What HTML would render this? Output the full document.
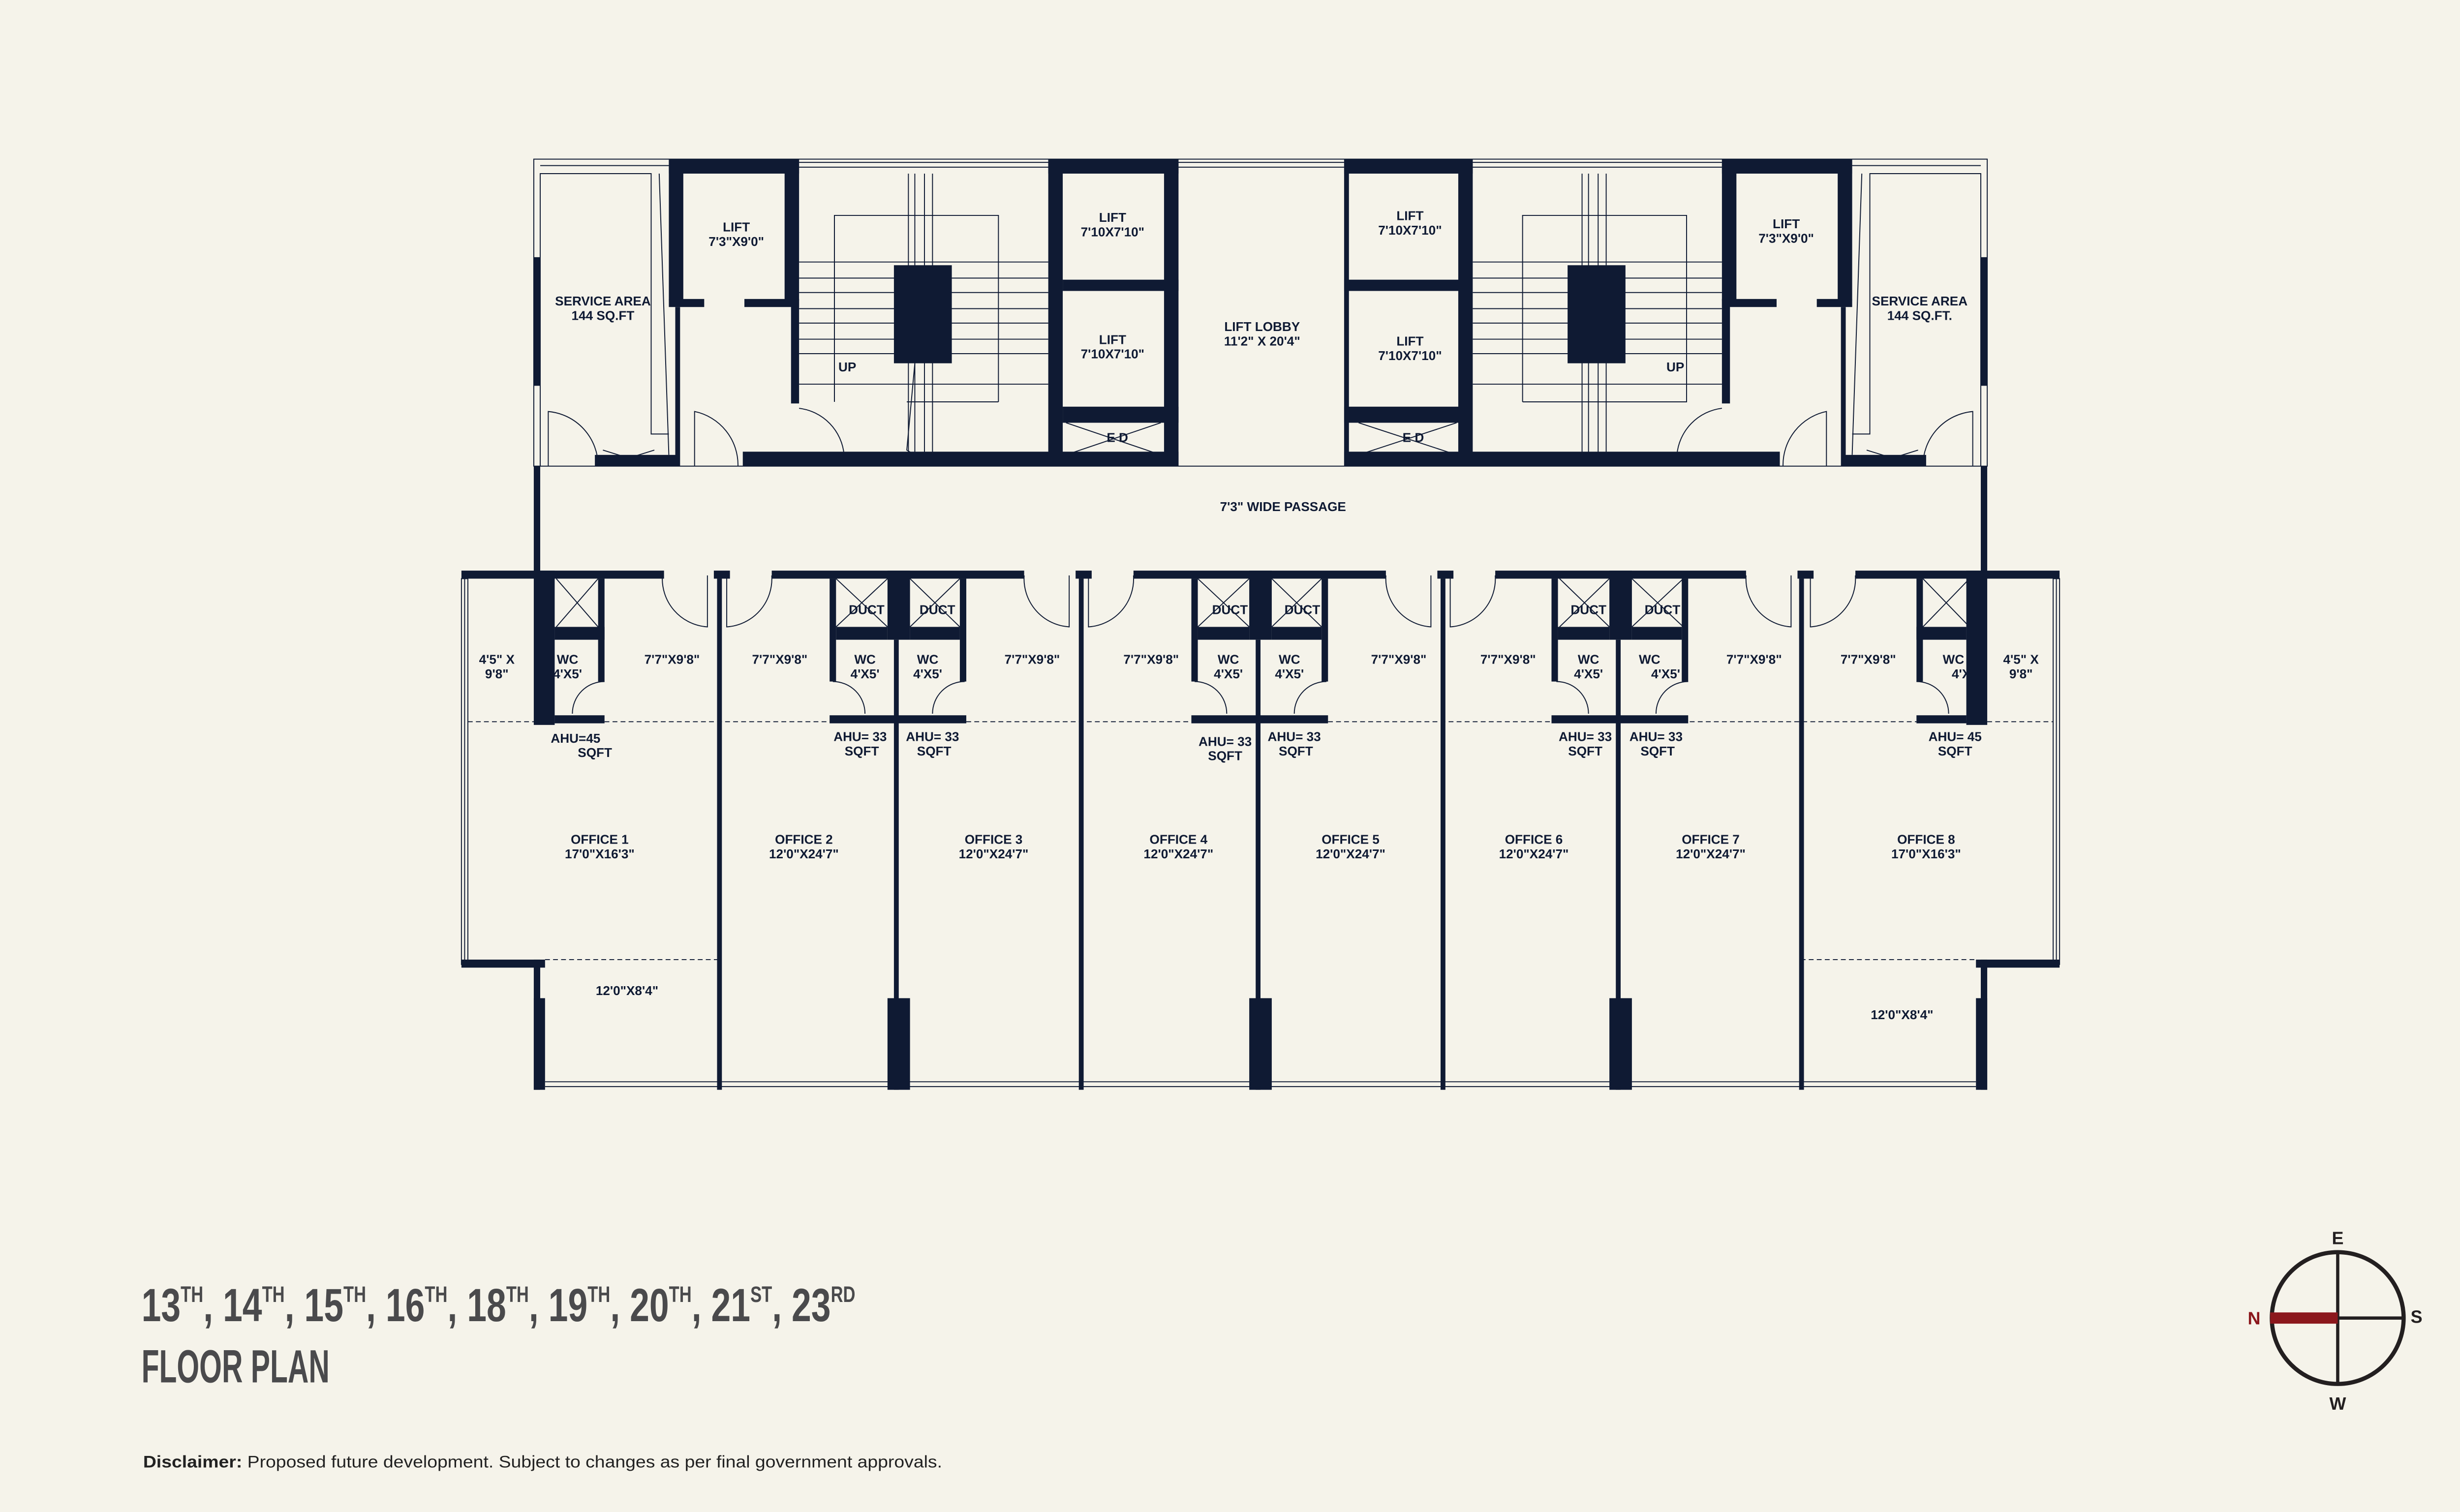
<!DOCTYPE html>
<html><head><meta charset="utf-8"><style>
html,body{margin:0;padding:0;background:#f5f3ea;}
svg{display:block}
text{font-family:"Liberation Sans Narrow","Liberation Sans",sans-serif;font-weight:bold;fill:#0f1a33;text-anchor:middle}
</style></head><body>
<svg width="5124" height="3074" viewBox="0 0 1568 940.66" xmlns="http://www.w3.org/2000/svg">
<rect width="1568" height="941" fill="#f5f3ea"/>
<g fill="none" stroke="#0f1a33" stroke-width="0.6">
 <!-- top outline double lines -->
 <rect x="332" y="99" width="904" height="191"/>
 <line x1="336" y1="103" x2="416" y2="103"/><line x1="1152" y1="103" x2="1232" y2="103"/>
 <line x1="497" y1="101" x2="652" y2="101"/><line x1="497" y1="104" x2="652" y2="104"/>
 <line x1="916" y1="101" x2="1071" y2="101"/><line x1="916" y1="104" x2="1071" y2="104"/>
 <line x1="733" y1="101" x2="836" y2="101"/><line x1="733" y1="104" x2="836" y2="104"/>
 <!-- service areas -->
 <polyline points="336,290 336,108 405,108 405,270 416,270"/>
 <line x1="410" y1="108" x2="416" y2="283"/>
 <polyline points="1232,290 1232,108 1163,108 1163,270 1152,270"/>
 <line x1="1158" y1="108" x2="1152" y2="283"/>
 <!-- stairs -->
 <rect x="541" y="134" width="84" height="216" style="display:none"/>
 <rect x="519" y="135" width="102" height="214" style="display:none"/>
 <rect x="519" y="134" width="102" height="216" stroke="none"/>
 <rect x="519" y="134" width="102" height="215" style="display:none"/>
 <rect x="519" y="134" width="102" height="215" style="display:none"/>
 <rect x="519" y="134" width="102" height="216" stroke="none"/>
 <rect x="519" y="134" width="102" height="216" style="display:none"/>
 <rect x="519" y="134" width="102" height="216" stroke="none"/>
 <rect x="519" y="134" width="102" height="216" stroke="none"/>
 <polyline points="519,250 519,134 621,134 621,250"/>
 <line x1="519" y1="250" x2="621" y2="250" style="display:none"/>
 <line x1="565" y1="108" x2="565" y2="283"/><line x1="569" y1="108" x2="569" y2="283"/><line x1="575" y1="108" x2="575" y2="283"/><line x1="580" y1="108" x2="580" y2="283"/>
 <g id="st">
 <line x1="497" y1="163" x2="652" y2="163"/><line x1="497" y1="182" x2="652" y2="182"/><line x1="497" y1="201" x2="652" y2="201"/><line x1="497" y1="220" x2="652" y2="220"/><line x1="497" y1="239" x2="652" y2="239"/><line x1="497" y1="257" x2="652" y2="257" style="display:none"/>
 <line x1="497" y1="173" x2="652" y2="173"/><line x1="497" y1="192" x2="652" y2="192"/><line x1="497" y1="211" x2="652" y2="211"/><line x1="497" y1="230" x2="652" y2="230" style="display:none"/>
 </g>
 <line x1="527" y1="134" x2="527" y2="350" style="display:none"/>
 <polyline points="569,226 564,280 569,283"/>
 <line x1="564" y1="250" x2="621" y2="250"/>
 <line x1="984" y1="108" x2="984" y2="283"/><line x1="988" y1="108" x2="988" y2="283"/><line x1="994" y1="108" x2="994" y2="283"/><line x1="999" y1="108" x2="999" y2="283"/>
 <polyline points="947,250 947,134 1049,134 1049,250 947,250"/>
 <polyline points="519,250 519,134"/>
 <g transform="translate(419,0)"><use href="#st"/></g>
 <!-- ED crosses -->
 <line x1="663" y1="263" x2="722" y2="283"/><line x1="663" y1="283" x2="722" y2="263"/>
 <line x1="845" y1="263" x2="906" y2="283"/><line x1="845" y1="283" x2="906" y2="263"/>
 <line x1="375" y1="280" x2="407" y2="290"/><line x1="375" y1="290" x2="407" y2="280"/>
 <line x1="1161" y1="280" x2="1193" y2="290"/><line x1="1161" y1="290" x2="1193" y2="280"/>
 <!-- doors top -->
 <path d="M341,290 L341,256 A34,34 0 0 1 372,290"/>
 <path d="M432,290 L432,256 A34,34 0 0 1 459,290"/>
 <path d="M497,254 A32,32 0 0 1 525,283"/>
 <path d="M1227,290 L1227,256 A34,34 0 0 0 1196,290"/>
 <path d="M1136,290 L1136,256 A34,34 0 0 0 1109,290"/>
 <path d="M1071,254 A32,32 0 0 0 1043,283"/>
 <!-- wings windows -->
 <rect x="287" y="360" width="4" height="240"/><line x1="289" y1="360" x2="289" y2="600"/>
 <rect x="1277" y="360" width="4" height="240"/><line x1="1279" y1="360" x2="1279" y2="600"/>
 <line x1="339" y1="673" x2="1229" y2="673"/><line x1="339" y1="676" x2="1229" y2="676"/>
 <!-- dashed -->
 <line x1="291" y1="449" x2="1277" y2="449" stroke-dasharray="3,2"/>
 <line x1="339" y1="597" x2="446" y2="597" stroke-dasharray="3,2"/>
 <line x1="1120" y1="597" x2="1229" y2="597" stroke-dasharray="3,2"/>
 <!-- shafts crosses -->
 <line x1="346" y1="360" x2="372" y2="390"/><line x1="346" y1="390" x2="372" y2="360"/>
 <line x1="1196" y1="360" x2="1225" y2="390"/><line x1="1196" y1="390" x2="1225" y2="360"/>
 <line x1="520" y1="360" x2="552" y2="390"/><line x1="520" y1="390" x2="552" y2="360"/>
 <line x1="566" y1="360" x2="597" y2="390"/><line x1="566" y1="390" x2="597" y2="360"/>
 <line x1="745" y1="360" x2="777" y2="390"/><line x1="745" y1="390" x2="777" y2="360"/>
 <line x1="791" y1="360" x2="822" y2="390"/><line x1="791" y1="390" x2="822" y2="360"/>
 <line x1="970" y1="360" x2="1001" y2="390"/><line x1="970" y1="390" x2="1001" y2="360"/>
 <line x1="1015" y1="360" x2="1047" y2="390"/><line x1="1015" y1="390" x2="1047" y2="360"/>
 <!-- office doors -->
 <path d="M440,358 L440,390 A30,30 0 0 1 412,358"/>
 <path d="M452,358 L452,390 A30,30 0 0 0 480,358"/>
 <path d="M665,358 L665,390 A30,30 0 0 1 637,358"/>
 <path d="M677,358 L677,390 A30,30 0 0 0 705,358"/>
 <path d="M890,358 L890,390 A30,30 0 0 1 862,358"/>
 <path d="M902,358 L902,390 A30,30 0 0 0 930,358"/>
 <path d="M1114,358 L1114,390 A30,30 0 0 1 1086,358"/>
 <path d="M1126,358 L1126,390 A30,30 0 0 0 1154,358"/>
 <!-- wc doors -->
 <path d="M376,424 A20,20 0 0 0 356,444"/><path d="M600,424 A20,20 0 0 0 580,444"/>
 <path d="M518,424 A20,20 0 0 1 538,444"/><path d="M743,424 A20,20 0 0 1 763,444"/>
 <path d="M825,424 A20,20 0 0 0 805,444"/><path d="M968,424 A20,20 0 0 1 988,444"/>
 <path d="M1050,424 A20,20 0 0 0 1030,444"/><path d="M1192,424 A20,20 0 0 1 1212,444"/>
</g>
<g fill="#0f1a33">
 <!-- top block walls -->
 <rect x="332" y="160" width="4" height="80"/>
 <rect x="416" y="99" width="81" height="9"/>
 <rect x="416" y="99" width="9" height="88"/>
 <rect x="416" y="186" width="22" height="5"/><rect x="463" y="186" width="34" height="5"/>
 <rect x="488" y="99" width="9" height="88"/>
 <rect x="492" y="186" width="5" height="65"/>
 <rect x="420" y="191" width="3" height="99"/>
 <rect x="370" y="283" width="50" height="7"/>
 <rect x="462" y="281" width="271" height="9"/>
 <rect x="652" y="99" width="81" height="9"/>
 <rect x="652" y="99" width="9" height="191"/>
 <rect x="661" y="174" width="72" height="7"/>
 <rect x="661" y="253" width="72" height="10"/>
 <rect x="724" y="99" width="9" height="191"/>
 <rect x="556" y="165" width="36" height="61"/>
 <!-- right mirror -->
 <rect x="1232" y="160" width="4" height="80"/>
 <rect x="1071" y="99" width="81" height="9"/>
 <rect x="1143" y="99" width="9" height="88"/>
 <rect x="1071" y="186" width="34" height="5"/><rect x="1130" y="186" width="22" height="5"/>
 <rect x="1071" y="99" width="9" height="88"/>
 <rect x="1071" y="186" width="5" height="65"/>
 <rect x="1145" y="191" width="3" height="99"/>
 <rect x="1148" y="283" width="50" height="7"/>
 <rect x="836" y="281" width="271" height="9"/>
 <rect x="836" y="99" width="80" height="9"/>
 <rect x="907" y="99" width="9" height="191"/>
 <rect x="836" y="174" width="72" height="7"/>
 <rect x="836" y="253" width="72" height="10"/>
 <rect x="836" y="99" width="3" height="191"/>
 <rect x="975" y="165" width="36" height="61"/>
 <!-- passage sides -->
 <rect x="332" y="290" width="4" height="70"/>
 <rect x="1232" y="290" width="4" height="70"/>
 <!-- lower top wall -->
 <rect x="287" y="355" width="126" height="5"/>
 <rect x="444" y="355" width="10" height="5"/>
 <rect x="480" y="355" width="157" height="5"/>
 <rect x="669" y="355" width="10" height="5"/>
 <rect x="705" y="355" width="157" height="5"/>
 <rect x="894" y="355" width="10" height="5"/>
 <rect x="930" y="355" width="156" height="5"/>
 <rect x="1118" y="355" width="10" height="5"/>
 <rect x="1154" y="355" width="127" height="5"/>
 <!-- left unit -->
 <rect x="332" y="355" width="13" height="96"/>
 <rect x="345" y="390" width="31" height="8"/>
 <rect x="372" y="360" width="4" height="64"/>
 <rect x="345" y="445" width="31" height="5"/>
 <!-- right unit -->
 <rect x="1223" y="355" width="13" height="96"/>
 <rect x="1192" y="390" width="31" height="8"/>
 <rect x="1192" y="360" width="4" height="64"/>
 <rect x="1192" y="445" width="31" height="5"/>
 <!-- wing steps -->
 <rect x="287" y="597" width="52" height="5"/>
 <rect x="1229" y="597" width="52" height="5"/>
 <rect x="332" y="597" width="4" height="81"/>
 <rect x="332" y="621" width="7" height="57"/>
 <rect x="1232" y="597" width="4" height="81"/>
 <rect x="1229" y="621" width="7" height="57"/>
 <!-- office dividers -->
 <rect x="446" y="360" width="3" height="318"/>
 <rect x="671" y="360" width="3" height="318"/>
 <rect x="896" y="360" width="3" height="318"/>
 <rect x="1119" y="360" width="3" height="318"/>
 <!-- pairs -->
 <g id="pair">
  <rect x="516" y="360" width="4" height="64"/>
  <rect x="520" y="390" width="32" height="8"/>
  <rect x="552" y="355" width="14" height="43"/>
  <rect x="566" y="390" width="31" height="8"/>
  <rect x="597" y="360" width="4" height="64"/>
  <rect x="516" y="445" width="85" height="5"/>
  <rect x="556" y="398" width="3" height="280"/>
  <rect x="552" y="621" width="14" height="57"/>
 </g>
 <use href="#pair" x="225"/>
 <use href="#pair" x="449"/>
</g>
<g font-size="8">
 <text x="375" y="190">SERVICE  AREA</text><text x="375" y="199">144 SQ.FT</text>
 <text x="458" y="144">LIFT</text><text x="458" y="153">7'3"X9'0"</text>
 <text x="527" y="231">UP</text>
 <text x="692" y="138">LIFT</text><text x="692" y="147">7'10X7'10"</text>
 <text x="692" y="214">LIFT</text><text x="692" y="223">7'10X7'10"</text>
 <text x="785" y="206">LIFT  LOBBY</text><text x="785" y="215">11'2" X 20'4"</text>
 <text x="695" y="275">E D</text>
 <text x="877" y="137">LIFT</text><text x="877" y="146">7'10X7'10"</text>
 <text x="877" y="215">LIFT</text><text x="877" y="224">7'10X7'10"</text>
 <text x="879" y="275">E D</text>
 <text x="1042" y="231">UP</text>
 <text x="1111" y="142">LIFT</text><text x="1111" y="151">7'3"X9'0"</text>
 <text x="1194" y="190">SERVICE  AREA</text><text x="1194" y="199">144 SQ.FT.</text>
 <text x="798" y="318">7'3" WIDE PASSAGE</text>
 <text x="309" y="413">4'5" X</text><text x="309" y="422">9'8"</text>
 <text x="353" y="413">WC</text><text x="353" y="422">4'X5'</text>
 <text x="418" y="413">7'7"X9'8"</text>
 <text x="485" y="413">7'7"X9'8"</text>
 <text x="538" y="413">WC</text><text x="538" y="422">4'X5'</text>
 <text x="577" y="413">WC</text><text x="577" y="422">4'X5'</text>
 <text x="642" y="413">7'7"X9'8"</text>
 <text x="716" y="413">7'7"X9'8"</text>
 <text x="764" y="413">WC</text><text x="764" y="422">4'X5'</text>
 <text x="802" y="413">WC</text><text x="802" y="422">4'X5'</text>
 <text x="870" y="413">7'7"X9'8"</text>
 <text x="938" y="413">7'7"X9'8"</text>
 <text x="988" y="413">WC</text><text x="988" y="422">4'X5'</text>
 <text x="1026" y="413">WC</text><text x="1036" y="422">4'X5'</text>
 <text x="1091" y="413">7'7"X9'8"</text>
 <text x="1162" y="413">7'7"X9'8"</text>
 <text x="1215" y="413">WC</text><text x="1222" y="422">4'X5</text>
 <text x="1257" y="413">4'5" X</text><text x="1257" y="422">9'8"</text>
 <text x="539" y="382">DUCT</text><text x="583" y="382">DUCT</text>
 <text x="765" y="382">DUCT</text><text x="810" y="382">DUCT</text>
 <text x="988" y="382">DUCT</text><text x="1034" y="382">DUCT</text>
 <text x="358" y="462">AHU=45</text><text x="370" y="471">SQFT</text>
 <text x="535" y="461">AHU= 33</text><text x="536" y="470">SQFT</text>
 <text x="580" y="461">AHU= 33</text><text x="581" y="470">SQFT</text>
 <text x="762" y="464">AHU= 33</text><text x="762" y="473">SQFT</text>
 <text x="805" y="461">AHU= 33</text><text x="806" y="470">SQFT</text>
 <text x="986" y="461">AHU= 33</text><text x="986" y="470">SQFT</text>
 <text x="1030" y="461">AHU= 33</text><text x="1031" y="470">SQFT</text>
 <text x="1216" y="461">AHU= 45</text><text x="1216" y="470">SQFT</text>
 <text x="373" y="525">OFFICE 1</text><text x="373" y="534">17'0"X16'3"</text>
 <text x="500" y="525">OFFICE 2</text><text x="500" y="534">12'0"X24'7"</text>
 <text x="618" y="525">OFFICE 3</text><text x="618" y="534">12'0"X24'7"</text>
 <text x="733" y="525">OFFICE 4</text><text x="733" y="534">12'0"X24'7"</text>
 <text x="840" y="525">OFFICE 5</text><text x="840" y="534">12'0"X24'7"</text>
 <text x="954" y="525">OFFICE 6</text><text x="954" y="534">12'0"X24'7"</text>
 <text x="1064" y="525">OFFICE 7</text><text x="1064" y="534">12'0"X24'7"</text>
 <text x="1198" y="525">OFFICE 8</text><text x="1198" y="534">17'0"X16'3"</text>
 <text x="390" y="619">12'0"X8'4"</text>
 <text x="1183" y="634">12'0"X8'4"</text>
</g>
<g style="text-anchor:start">
 <text x="88" y="822" font-size="29" style="text-anchor:start;fill:#4a4a4c" textLength="444" lengthAdjust="spacingAndGlyphs">13<tspan font-size="14" dy="-12">TH</tspan><tspan dy="12">, 14</tspan><tspan font-size="14" dy="-12">TH</tspan><tspan dy="12">, 15</tspan><tspan font-size="14" dy="-12">TH</tspan><tspan dy="12">, 16</tspan><tspan font-size="14" dy="-12">TH</tspan><tspan dy="12">, 18</tspan><tspan font-size="14" dy="-12">TH</tspan><tspan dy="12">, 19</tspan><tspan font-size="14" dy="-12">TH</tspan><tspan dy="12">, 20</tspan><tspan font-size="14" dy="-12">TH</tspan><tspan dy="12">, 21</tspan><tspan font-size="14" dy="-12">ST</tspan><tspan dy="12">, 23</tspan><tspan font-size="14" dy="-12">RD</tspan></text>
 <text x="88" y="860" font-size="29" style="text-anchor:start;fill:#4a4a4c" textLength="117" lengthAdjust="spacingAndGlyphs">FLOOR PLAN</text>
 <text x="89" y="913" font-size="10.5" style="text-anchor:start;fill:#222;font-weight:normal" textLength="497" lengthAdjust="spacingAndGlyphs"><tspan font-weight="bold">Disclaimer:</tspan> Proposed future development. Subject to changes as per final government approvals.</text>
</g>
<g>
 <circle cx="1454" cy="820" r="41" fill="none" stroke="#231f20" stroke-width="2.6"/>
 <line x1="1454" y1="779" x2="1454" y2="861" stroke="#231f20" stroke-width="2"/>
 <line x1="1454" y1="820" x2="1495" y2="820" stroke="#231f20" stroke-width="2"/>
 <rect x="1412" y="816.5" width="42" height="7" fill="#8b171c"/>
 <g font-family="Liberation Sans" style="font-family:'Liberation Sans',sans-serif">
 <text x="1454" y="774" font-size="11" style="fill:#231f20">E</text>
 <text x="1454" y="877" font-size="11" style="fill:#231f20">W</text>
 <text x="1402" y="824" font-size="11" style="fill:#8b171c">N</text>
 <text x="1503" y="823" font-size="11" style="fill:#231f20">S</text>
 </g>
</g>
</svg>
</body></html>
